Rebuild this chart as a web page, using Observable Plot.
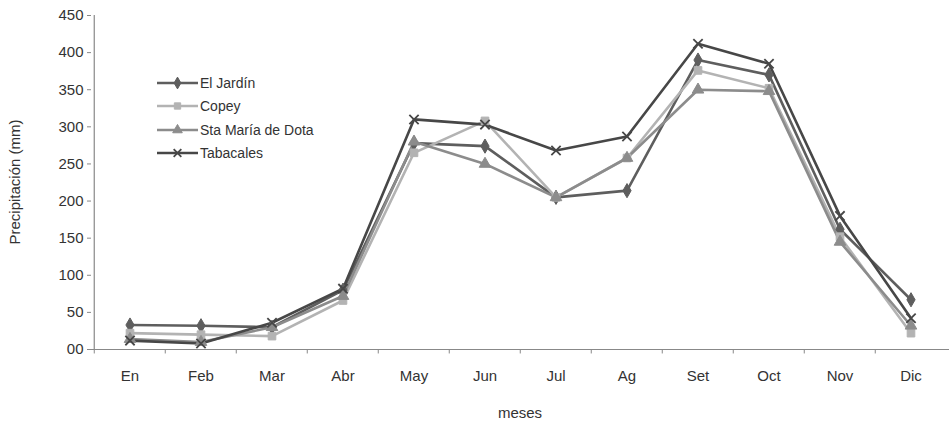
<!DOCTYPE html>
<html>
<head>
<meta charset="utf-8">
<script src="https://cdn.jsdelivr.net/npm/d3@7"></script>
<script src="https://cdn.jsdelivr.net/npm/@observablehq/plot@0.6"></script>
<style>
  html, body { margin: 0; padding: 0; background: #fff; }
  #wrap { position: relative; width: 949px; height: 421px; font-family: "Liberation Sans", Arial, sans-serif; }
  #legend { position: absolute; left: 157px; top: 71px; font-size: 14px; color: #333; }
  #legend .row { display: flex; align-items: center; height: 23.5px; }
  #legend svg { margin-right: 2px; }
</style>
</head>
<body>
<div id="wrap">
  <div id="chart"></div>
  <div id="legend"></div>
</div>
<script>
const months = ["En","Feb","Mar","Abr","May","Jun","Jul","Ag","Set","Oct","Nov","Dic"];
const seriesNames = ["El Jardín","Copey","Sta María de Dota","Tabacales"];
const elJardin = [33, 32, 30, 80, 278, 274, 205, 214, 390, 370, 162, 67];
const copey    = [22, 20, 18, 66, 265, 308, 205, 258, 376, 352, 152, 22];
const staMaria = [14, 10, 30, 72, 280, 250, 205, 258, 350, 348, 145, 32];
const tabacales= [12,  8, 36, 82, 310, 303, 268, 287, 412, 385, 180, 42];
const yTicks = [0, 50, 100, 150, 200, 250, 300, 350, 400, 450];

const colors = {"El Jardín": "#5e5e5e", "Copey": "#b3b3b3", "Sta María de Dota": "#8c8c8c", "Tabacales": "#474747"};
const symbols = {"El Jardín": "diamond", "Copey": "square", "Sta María de Dota": "triangle", "Tabacales": "times"};

const valuesBySeries = [elJardin, copey, staMaria, tabacales];
const data = seriesNames.flatMap((s, si) => months.map((m, i) => ({series: s, month: m, value: valuesBySeries[si][i]})));

const W = 949, H = 421, ML = 91, MR = 0, MT = 15, MB = 72;
const step = (W - ML - MR) / months.length;

const chart = Plot.plot({
  width: W, height: H,
  marginLeft: ML, marginRight: MR, marginTop: MT, marginBottom: MB,
  style: {fontFamily: "Liberation Sans, Arial, sans-serif", fontSize: "15px", color: "#333", background: "#fff"},
  x: {type: "band", domain: months, padding: 0, label: null},
  y: {domain: [0, 450], label: null},
  marks: [
    Plot.ruleY([0], {stroke: "#888", strokeWidth: 1.2}),
    Plot.ruleX([months[0]], {dx: -step / 2, stroke: "#888", strokeWidth: 1.2}),
    Plot.ruleX(months, {x: d => d, y1: 0, y2: -6, dx: -step / 2, stroke: "#888"}),
    Plot.axisY({ticks: yTicks, tickSize: 4, tickPadding: 4, stroke: "#888", tickFormat: d => d === 0 ? "00" : String(d), fontSize: 15, fill: "#333"}),
    Plot.axisX({tickSize: 0, tickPadding: 21, fontSize: 15, fill: "#333"}),
    Plot.line(data, {x: "month", y: "value", z: "series", stroke: d => colors[d.series], strokeWidth: 2.6}),
    Plot.dot(data, {x: "month", y: "value", symbol: d => symbols[d.series], fill: d => d.series === "Tabacales" ? "none" : colors[d.series], stroke: d => colors[d.series], strokeWidth: d => d.series === "Tabacales" ? 1.8 : 1, r: 4.3})
  ]
});
// Y axis title and X axis title
const svg = d3.select(chart);
svg.append("text").attr("transform", `translate(20, ${(MT + H - MB) / 2}) rotate(-90)`)
  .attr("text-anchor", "middle").attr("fill", "#333").style("font-size", "15px").text("Precipitación (mm)");
svg.append("text").attr("x", ML + (W - ML - MR) / 2).attr("y", 418)
  .attr("text-anchor", "middle").attr("fill", "#333").style("font-size", "15px").text("meses");
document.getElementById("chart").appendChild(chart);

// Legend
const legend = d3.select("#legend");
seriesNames.forEach(s => {
  const row = legend.append("div").attr("class", "row");
  const sv = row.append("svg").attr("width", 41).attr("height", 14);
  sv.append("line").attr("x1", 0).attr("x2", 41).attr("y1", 7).attr("y2", 7).attr("stroke", colors[s]).attr("stroke-width", 2.6);
  const sym = d3.symbol().type({diamond: d3.symbolDiamond, square: d3.symbolSquare, triangle: d3.symbolTriangle, times: d3.symbolTimes}[symbols[s]]).size(40);
  sv.append("path").attr("d", sym()).attr("transform", "translate(20.5,7)")
    .attr("fill", s === "Tabacales" ? "none" : colors[s]).attr("stroke", colors[s]).attr("stroke-width", s === "Tabacales" ? 1.8 : 1);
  row.append("span").text(s);
});
</script>
</body>
</html>
